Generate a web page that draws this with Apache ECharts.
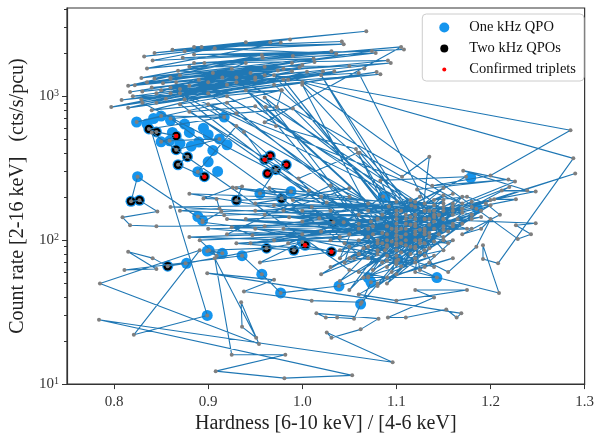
<!DOCTYPE html>
<html><head><meta charset="utf-8">
<script src="https://cdn.jsdelivr.net/npm/echarts@6/dist/echarts.min.js"></script>
<style>html,body{margin:0;padding:0;background:#fff}#c{width:597px;height:439px}</style>
</head><body><div id="c"></div>
<script>
// ---- time-ordered track segments: [hardness, count rate] ----
const upperBand = [
[0.832,1890],[0.966,2370],[0.843,2000],[1.068,2830],[0.862,2100],[0.987,2480],[0.875,2050],[1.044,2300],[0.885,2200],[1.042,2400],
[0.893,2200],[0.940,2370],[0.841,1770],[1.108,2110],[0.873,1850],[1.031,2050],[0.835,1560],[0.977,2360],[0.907,2150],[1.036,1970],
[0.885,1950],[1.074,2060],[0.815,1180],[0.957,1930],[0.829,1340],[1.012,1830],[0.885,1700],[1.078,2000],[0.843,1330],[0.958,1850],
[0.896,1700],[1.091,1770],[0.822,1190],[0.989,1700],[0.866,1250],[1.013,1730],[0.817,1070],[0.997,1590],[0.850,1100],[1.083,1420],
[0.808,940],[1.022,1490],[0.829,950],[1.066,1560],[0.797,840],[0.989,1490],[0.815,830],[1.079,1470],[0.845,900],[1.034,1490],
[0.860,1050],[0.974,1510],[0.875,950],[0.978,1100],[0.820,1000],[0.950,1300],[0.830,1080],[0.930,1250],[0.840,1150],[0.960,1400],
[0.852,1230],[0.945,1450],[0.860,1320],[1.000,1650],[0.870,1400],[0.925,1550],[0.845,1050],[0.920,1200],[0.855,960],[0.985,1300],
[0.870,1120],[0.915,1350],[0.880,1180],[0.960,1600],[0.835,1250],[0.905,1450],[0.868,1500],[0.940,1700],[0.890,1300],[1.005,1480]
];
const descent1 = [
[0.840,800],[0.920,900],[1.105,95],[1.120,110],[1.090,78],[1.140,120],[1.110,92],[0.880,780],[0.950,850],[1.130,140],
[1.100,85],[1.160,150],[1.085,70],[1.060,80],[0.860,700],[0.930,760],[0.990,820],[1.115,128],[1.070,105],[1.125,100]
];
const clusterC1 = [
[1.130,95],[1.095,120],[1.160,125],[1.115,80],[1.105,105],[1.090,92],[1.125,118],[1.135,88],[1.080,100],[1.170,155],
[1.145,110],[1.120,75],[1.100,68],[1.060,80],[1.075,110],[1.155,95],[1.130,140],[1.185,165],[1.110,130],[1.095,60],
[1.140,78],[1.065,55],[1.120,150],[1.175,120],[1.100,115],[1.088,85],[1.150,170],[1.180,150],[1.050,90],[1.045,70],
[1.160,100],[1.125,62],[1.115,145],[1.090,100],[1.140,98],[1.105,82],[1.120,125],[1.070,90],[1.135,112],[1.100,140]
];
const rightSide = [
[0.970,1400],[1.285,580],[1.200,281],[1.138,239],[1.219,264],[1.122,225],[1.150,160],[1.226,256],[1.171,304],[1.239,221],
[1.212,221],[1.248,218],[1.204,192],[1.227,192],[1.145,150],[1.220,234],[1.180,170],[1.290,290],[1.135,140],[1.248,131],
[1.227,127],[1.243,110],[1.229,102],[1.000,1250],[1.288,370],[1.208,69],[1.192,74],[1.192,92],[1.209,43],[1.120,60],
[1.135,380],[1.106,276],[1.061,405],[1.150,85],[1.100,72]
];
const backUp1 = [
[0.860,1150],[0.950,1350],[0.830,900],[1.110,100],[1.130,85],[0.900,1050],[0.970,1200],[1.150,118],[1.100,78],[0.870,880],
[0.920,1000],[1.135,160],[1.060,1450],[0.900,1250],[1.094,1700],[0.860,1350],[0.980,1550],[1.050,1620],[0.880,1600],[0.990,1900],
[1.105,2200],[0.960,660],[0.972,620],[1.057,430],[1.100,120],[0.961,840],[0.973,840],[0.978,1100]
];
const middleD = [
[0.824,662],[0.850,728],[0.917,716],[0.837,592],[0.845,565],[0.866,530],[0.850,482],[0.859,490],[0.912,505],[0.866,425],
[0.878,380],[0.868,334],[0.896,276],[0.889,299],[0.930,620],[0.938,565],[0.960,362],[0.966,386],[0.983,334],[0.963,290],
[0.972,309],[0.955,211],[0.988,218],[0.978,195],[0.930,189],[0.936,236],[0.926,232],[0.895,195],[0.909,193],[0.912,166]
];
const crossD = [
[0.870,160],[1.120,130],[0.900,120],[1.100,95],[0.880,105],[1.130,120],[0.920,140],[1.150,105],[0.950,120],[1.080,80],
[0.930,95],[1.120,115],[0.960,150],[1.160,130],[0.980,120],[1.100,108],[0.970,175],[1.140,160],[1.000,160],[1.090,125]
];
const middleFill = [
[0.880,210],[1.150,180],[0.860,170],[1.120,140],[0.930,230],[1.170,165],[0.950,180],[1.050,230],[0.980,160],[1.090,110],
[0.940,140],[1.130,160],[0.990,190],[1.060,120],[0.970,100],[1.140,150],[1.020,200],[1.080,140],[0.960,125],[1.120,170],
[1.010,170],[1.040,105],[0.945,95],[1.100,150],[1.030,240],[0.920,110],[1.110,120],[1.000,135],[1.070,180],[0.950,160],
[1.150,140],[1.020,115],[0.985,95],[1.060,150],[1.040,75],[1.100,160],[1.050,200],[0.965,230],[1.090,90],[1.030,160]
];
const middleD2 = [
[0.917,149],[0.889,146],[0.894,137],[0.825,276],[0.818,186],[0.827,189],[0.846,158],[0.809,144],[0.817,127],[0.845,125],
[1.100,130],[1.073,135],[1.018,142],[0.986,144],[1.092,171],[1.026,183],[1.007,221],[0.996,268],[1.059,405],[1.086,201],
[1.044,133],[1.033,133],[0.925,123],[0.947,108],[1.000,110],[0.894,133],[0.914,158],[1.116,174],[1.174,276],[1.083,260]
];
const clusterC3 = [
[1.110,110],[1.070,75],[1.140,135],[1.090,65],[1.125,95],[1.060,100],[1.150,125],[1.100,58],[1.130,115],[1.080,85],
[1.165,140],[1.095,98],[1.120,70],[1.055,75],[1.145,150],[1.105,120],[1.075,62],[1.135,105],[1.115,90],[1.170,130],
[1.085,112],[1.125,82],[1.100,102],[1.155,115],[1.065,88],[1.140,65],[1.110,140],[1.090,72],[1.180,140],[1.120,100],
[1.045,95],[1.130,78],[1.160,160],[1.100,92],[1.075,125],[1.150,100],[1.105,66],[1.140,145],[1.085,95],[1.120,88]
];
const clusterC4 = [
[1.040,52],[1.180,185],[1.060,60],[1.160,170],[1.030,65],[1.190,160],[1.080,48],[1.170,200],[1.050,75],[1.200,175],
[1.070,56],[1.150,190],[1.020,58],[1.180,150],[1.090,50],[1.160,180],[1.050,110],[1.190,145],[1.040,85],[1.140,175],
[1.060,130],[1.200,190],[1.030,100],[1.170,165],[1.080,140],[1.120,185],[1.050,45],[1.150,205],[1.070,120],[1.180,120]
];
const diag2 = [
[0.980,1300],[1.120,90],[0.940,1100],[1.150,140],[0.900,880],[1.100,70],[1.000,1200],[1.135,128],[0.960,980],[1.080,95],
[0.930,1350],[1.170,180],[0.870,1050],[1.130,110],[1.020,1400],[1.110,150]
];
const lowerMid = [
[0.891,100],[0.909,78],[0.899,84],[0.915,81],[0.901,85],[0.962,88],[0.991,85],[1.003,92],[1.031,83],[0.955,70],
[1.000,97],[0.876,69],[0.857,66],[0.841,75],[0.815,83],[0.845,63],[0.811,62],[0.936,78],[0.957,58],[0.977,43],
[1.039,48],[1.070,55],[1.143,55],[1.102,73],[1.062,36],[1.073,51],[1.130,65],[1.160,75],[1.090,55],[1.050,62]
];
const lowerLeft = [
[0.840,560],[0.899,30],[0.821,22],[0.891,85],[0.785,50],[0.954,19],[0.935,37],[0.936,25],[0.951,21],[0.907,75],
[0.925,16],[0.982,16],[0.908,12.3],[0.981,11],[1.053,11.5],[0.784,28],[1.096,14.2],[1.026,22.8],[1.031,21],[1.062,24],
[1.081,28.5],[1.015,31],[1.025,29],[1.037,29],[1.055,28.5],[1.063,37],[1.010,38],[0.938,44],[0.970,53],[0.899,59]
];
const clusterC2 = [
[1.169,31],[1.164,29],[1.153,33],[1.110,29],[1.091,29],[1.140,40],[1.120,45],[1.175,45],[1.100,38],[1.060,42],
[1.080,50],[1.135,70],[1.155,60],[1.185,90],[1.200,140],[1.190,120],[1.170,110],[1.210,150],[1.195,180],[1.175,200],
[1.140,190],[1.160,210],[1.130,180],[1.150,230],[1.105,160],[1.125,200],[1.085,150],[1.100,185],[1.070,160],[1.115,190]
];

// ---- QPO detections ----
const oneQPO = [
[0.824,662],[0.850,728],[0.917,716],[0.835,640],[0.842,700],[0.860,680],[0.875,640],[0.880,560],[0.895,600],[0.900,540],
[0.850,482],[0.859,490],[0.912,505],[0.870,470],[0.882,450],[0.905,420],[0.862,560],[0.890,480],[0.920,460],[0.900,350],
[0.889,299],[0.910,300],[0.825,276],[0.889,146],[0.894,137],[0.877,69],[0.901,85],[0.915,81],[0.899,84],[0.955,211],
[0.988,218],[1.086,201],[1.044,133],[0.957,58],[0.977,43],[0.899,30],[1.039,48],[1.070,55],[1.179,272],[1.088,198],
[1.118,172],[1.186,166],[1.073,51],[1.143,55],[1.062,36],[1.102,73],[1.000,97],[0.936,78]
];
const twoQPO = [
[0.837,592],[0.845,565],[0.866,530],[0.866,425],[0.878,380],[0.868,334],[0.896,276],[0.818,186],[0.827,189],[0.930,189],
[0.857,66],[0.960,362],[0.966,386],[0.983,334],[0.963,290],[0.972,309],[0.978,195],[1.033,133],[0.962,88],[0.991,85],
[1.003,92],[1.031,83]
];
const triplets = [
[0.866,530],[0.896,276],[0.960,362],[0.966,386],[0.983,334],[0.963,290],[1.003,92],[1.031,83]
];

// ---- axis ticks ----
const xTicks = [0.8, 0.9, 1.0, 1.1, 1.2, 1.3];
const yTicks = [10, 100, 1000];
const yMinorTicks = [20,30,40,50,60,70,80,90,200,300,400,500,600,700,800,900,2000,3000,4000];

const track = [].concat(upperBand, descent1, clusterC1, rightSide, backUp1, middleD, crossD, middleFill,
  middleD2, clusterC3, diag2, clusterC4, lowerMid, lowerLeft, clusterC2);

const FONT = 'Liberation Serif';
const chart = echarts.init(document.getElementById('c'), null, {renderer: 'canvas'});
const option = {
  animation: false,
  backgroundColor: '#fff',
  grid: {left: 67, right: 9, top: 8, bottom: 51, show: true, borderColor: '#333', borderWidth: 1.2, backgroundColor: 'transparent'},
  legend: {
    orient: 'vertical', right: 13, top: 14,
    itemWidth: 40, itemHeight: 10, itemGap: 6,
    padding: [6, 8, 4, 17],
    borderColor: '#cccccc', borderWidth: 1, borderRadius: 4, backgroundColor: '#fff',
    textStyle: {fontFamily: FONT, fontSize: 14.5, color: '#111'},
    data: [
      {name: 'One kHz QPO', icon: 'circle'},
      {name: 'Two kHz QPOs', icon: 'path://M0,0M10,10M1,5a4,4 0 1,0 8,0a4,4 0 1,0 -8,0z'},
      {name: 'Confirmed triplets', icon: 'path://M0,0M10,10M3,5a2,2 0 1,0 4,0a2,2 0 1,0 -4,0z'}
    ]
  },
  xAxis: {
    type: 'value', min: 0.75, max: 1.3,
    axisLine: {lineStyle: {color: '#333', width: 1.2}},
    axisTick: {customValues: xTicks, length: 5, lineStyle: {color: '#333'}},
    axisLabel: {customValues: xTicks, formatter: v => v.toFixed(1), fontFamily: FONT, fontSize: 15, color: '#333', margin: 10},
    splitLine: {show: false},
    name: 'Hardness [6-10 keV] / [4-6 keV]', nameLocation: 'middle', nameGap: 29,
    nameTextStyle: {fontFamily: FONT, fontSize: 20, color: '#222'}
  },
  yAxis: [{
    type: 'log', logBase: 10, min: 10, max: 4100,
    axisLine: {lineStyle: {color: '#333', width: 1.2}},
    axisTick: {customValues: yTicks, length: 5, lineStyle: {color: '#333'}},
    axisLabel: {
      customValues: yTicks, margin: 8,
      formatter: v => '{b|10}{e|' + Math.round(Math.log10(v)) + '}',
      rich: {
        b: {fontFamily: FONT, fontSize: 15, color: '#333'},
        e: {fontFamily: FONT, fontSize: 10, color: '#333', verticalAlign: 'top'}
      }
    },
    splitLine: {show: false},
    name: 'Count rate [2-16 keV]   (cts/s/pcu)', nameLocation: 'middle', nameGap: 39,
    nameTextStyle: {fontFamily: FONT, fontSize: 20, color: '#222'}
  }, {
    type: 'log', logBase: 10, min: 10, max: 4100, position: 'left',
    axisLine: {show: false},
    axisTick: {customValues: yMinorTicks, length: 3, lineStyle: {color: '#333'}},
    axisLabel: {show: false},
    splitLine: {show: false}
  }],
  series: [
    {name: 'One kHz QPO', type: 'scatter', z: 1, data: oneQPO.concat(twoQPO), symbol: 'circle', symbolSize: 11,
     itemStyle: {color: '#1595ee', opacity: 1}},
    {name: 'Two kHz QPOs', type: 'scatter', z: 1, data: twoQPO, symbol: 'circle', symbolSize: 8.5,
     itemStyle: {color: '#000', opacity: 1}},
    {name: 'track', type: 'line', z: 2, data: track, showSymbol: true, symbol: 'circle', symbolSize: 4,
     itemStyle: {color: '#7f7f7f'}, lineStyle: {color: '#1f77b4', width: 1.1}, emphasis: {disabled: true}},
    {name: 'Confirmed triplets', type: 'scatter', z: 3, data: triplets, symbol: 'circle', symbolSize: 4.5,
     itemStyle: {color: '#ff0000', opacity: 1}}
  ]
};
chart.setOption(option);
</script>
</body></html>
